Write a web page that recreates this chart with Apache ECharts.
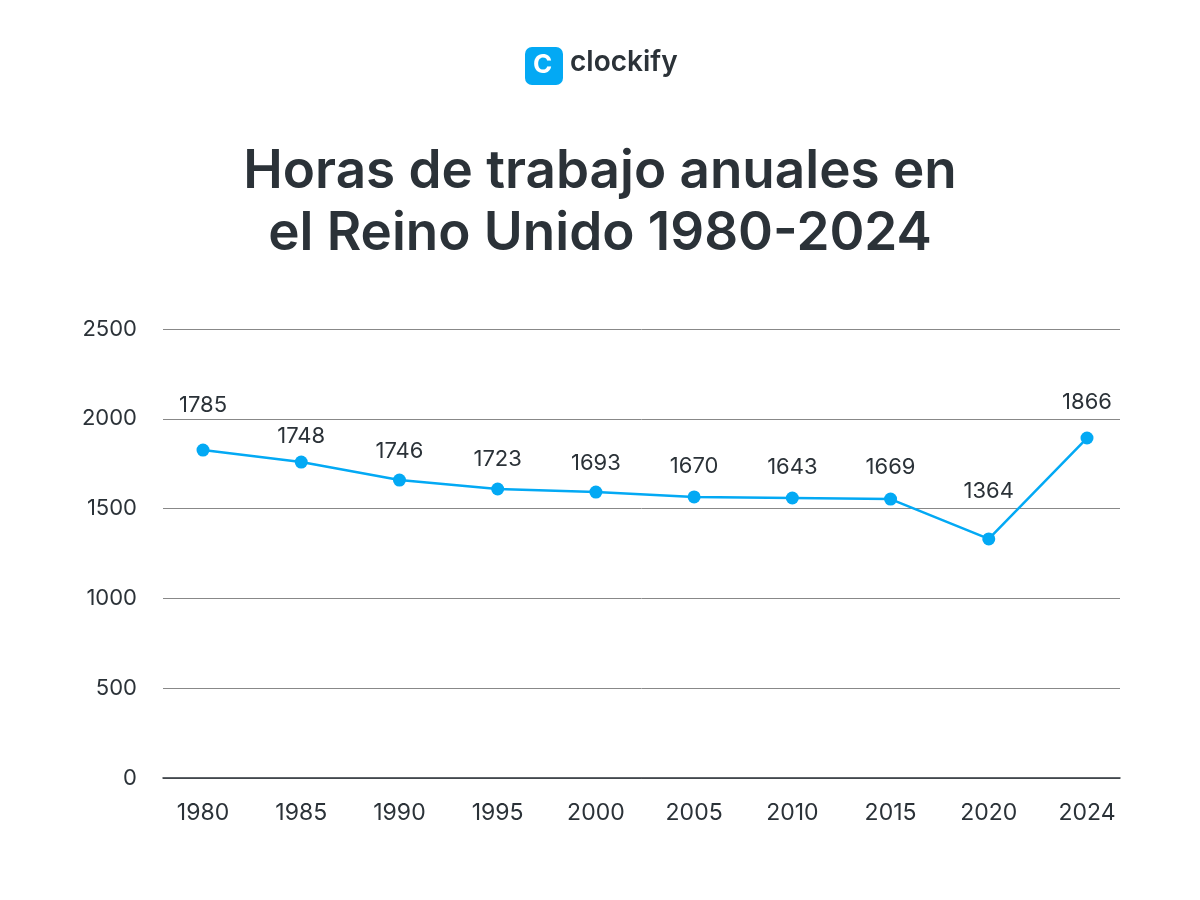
<!DOCTYPE html>
<html><head><meta charset="utf-8">
<script src="https://cdn.jsdelivr.net/npm/echarts@6/dist/echarts.min.js"></script>
<style>html,body{margin:0;background:#fff}#c{width:1200px;height:900px}</style>
</head><body><div id="c"></div>
<script>
const years = ['1980','1985','1990','1995','2000','2005','2010','2015','2020','2024'];
const plotted = [1826,1759,1659,1609,1592,1565,1559,1553,1331,1893];
const labels = ['1785','1748','1746','1723','1693','1670','1643','1669','1364','1866'];
const yTicks = [0,500,1000,1500,2000,2500];
const labelGap = [27,8,11,12,11,13,13,14,30,18];
const chart = echarts.init(document.getElementById('c'));
const F = 'Inter, "Noto Sans", sans-serif';
chart.setOption({
  animation:false,
  title:{text:'Horas de trabajo anuales en\nel Reino Unido 1980-2024',left:'center',top:136,
    textStyle:{fontFamily:F,fontSize:53,fontWeight:600,color:'#2b3238',lineHeight:62}},
  graphic:[
    {type:'rect',left:525,top:47,shape:{width:38,height:38,r:7},style:{fill:'#03a9f4'}},
    {type:'text',left:533,top:52,style:{text:'C',font:'bold 26px '+F,fill:'#fff'}},
    {type:'text',left:570,top:49,style:{text:'clockify',font:'600 28px '+F,fill:'#2b3238'}}
  ],
  grid:[{left:163,right:80,top:329,bottom:122},{left:203,right:113,top:329,bottom:122}],
  xAxis:[
    {type:'category',gridIndex:0,data:years,axisLine:{lineStyle:{color:'#2b3238',width:1.5}},
      axisTick:{show:false},axisLabel:{show:false}},
    {type:'category',gridIndex:1,data:years,boundaryGap:false,axisLine:{show:false},axisTick:{show:false},
      axisLabel:{fontFamily:F,fontSize:23,color:'#2b3238',margin:24}}
  ],
  yAxis:[
    {type:'value',gridIndex:0,min:0,max:2500,interval:500,
      axisLabel:{fontFamily:F,fontSize:22,color:'#2b3238',margin:26,formatter:v=>yTicks.includes(v)?String(v):''},
      splitLine:{lineStyle:{color:'#888',width:1}},axisLine:{show:false},axisTick:{show:false}},
    {type:'value',gridIndex:1,min:0,max:2500,interval:500,show:false}
  ],
  series:[{type:'line',xAxisIndex:1,yAxisIndex:1,
    data:plotted.map((v,i)=>({value:v,label:{distance:labelGap[i]}})),symbol:'circle',symbolSize:13,
    lineStyle:{color:'#03a9f4',width:2.5},itemStyle:{color:'#03a9f4'},
    label:{show:true,position:'top',fontFamily:F,fontSize:22,color:'#2b3238',
      formatter:p=>labels[p.dataIndex]}}]
});
</script></body></html>
